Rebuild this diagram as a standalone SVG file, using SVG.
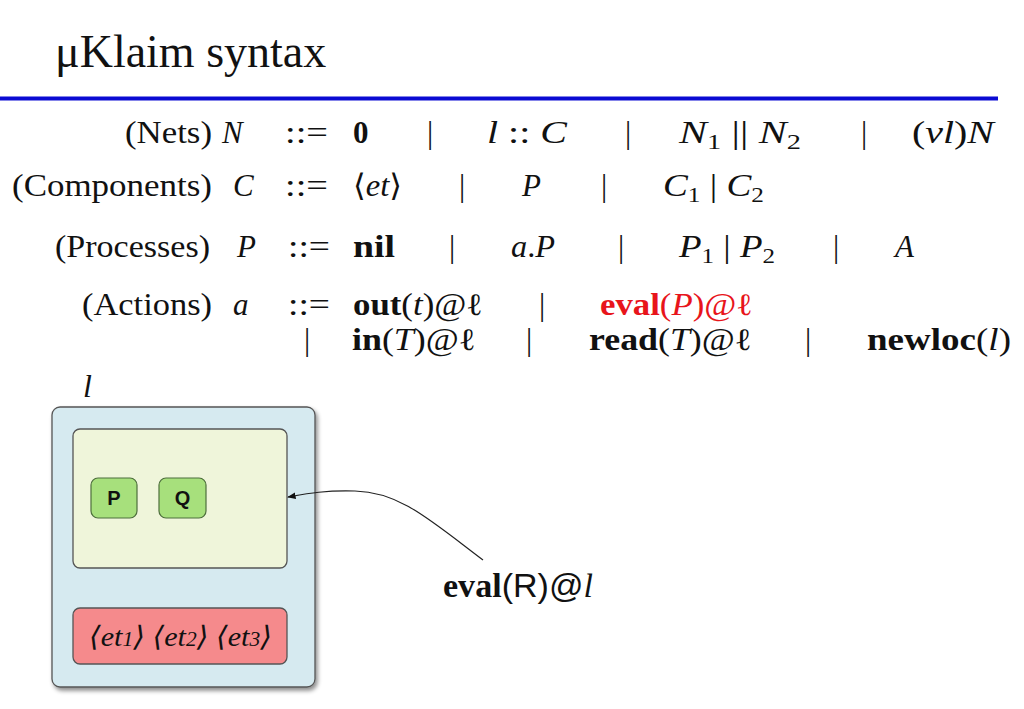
<svg xmlns="http://www.w3.org/2000/svg" width="1024" height="709" viewBox="0 0 1024 709">
<style>
.t{font-family:"Liberation Serif","DejaVu Serif",serif;font-size:31px;fill:#111}
.i{font-style:italic}
.b{font-weight:bold}
.bar{text-anchor:middle}
.red{fill:#e8141b}
.box{stroke:#555;stroke-width:1.3}
.pq{font-family:"Liberation Sans",Arial,sans-serif;font-weight:bold;font-size:20px;fill:#111;text-anchor:middle}
</style>
<defs>
<filter id="sh" x="-10%" y="-10%" width="130%" height="130%">
<feDropShadow dx="2" dy="3" stdDeviation="2" flood-color="#000" flood-opacity="0.45"/>
</filter>
<marker id="ah" viewBox="0 0 10 10" refX="9" refY="5" markerWidth="7" markerHeight="7" orient="auto">
<path d="M0,1 L10,5 L0,9 z" fill="#111"/>
</marker>
</defs>
<rect width="1024" height="709" fill="#fff"/>

<g id="title">
<text x="55" y="67" font-family="Liberation Serif,serif" font-size="46" fill="#111">μKlaim syntax</text>
<rect x="0" y="96.5" width="998" height="4" fill="#0b0bd3"/>
</g>

<g id="row-nets" class="t">
<text class="t" x="125" y="143" textLength="87" lengthAdjust="spacingAndGlyphs">(Nets)</text>
<text class="t i" x="222" y="143">N</text>
<text class="t" x="285" y="143" textLength="43" lengthAdjust="spacingAndGlyphs">::=</text>
<text class="t b" x="353" y="143">0</text>
<text class="t bar" x="430" y="143">|</text>
<text class="t" x="487" y="143" textLength="80" lengthAdjust="spacingAndGlyphs"><tspan class="i">l</tspan> :: <tspan class="i">C</tspan></text>
<text class="t bar" x="628" y="143">|</text>
<text class="t" x="679" y="143" textLength="122" lengthAdjust="spacingAndGlyphs"><tspan class="i">N</tspan><tspan font-size="21" dy="6">1</tspan><tspan dy="-6"> || </tspan><tspan class="i">N</tspan><tspan font-size="21" dy="6">2</tspan></text>
<text class="t bar" x="864" y="143">|</text>
<text class="t" x="912" y="143" textLength="82" lengthAdjust="spacingAndGlyphs">(<tspan class="i">νl</tspan>)<tspan class="i">N</tspan></text>
</g>

<g id="row-components">
<text class="t" x="12" y="196" textLength="200" lengthAdjust="spacingAndGlyphs">(Components)</text>
<text class="t i" x="233" y="196">C</text>
<text class="t" x="285" y="196" textLength="43" lengthAdjust="spacingAndGlyphs">::=</text>
<text class="t" x="353" y="196" textLength="49" lengthAdjust="spacingAndGlyphs">⟨<tspan class="i">et</tspan>⟩</text>
<text class="t bar" x="462" y="196">|</text>
<text class="t i" x="522" y="196">P</text>
<text class="t bar" x="604" y="196">|</text>
<text class="t" x="663" y="196" textLength="101" lengthAdjust="spacingAndGlyphs"><tspan class="i">C</tspan><tspan font-size="21" dy="6">1</tspan><tspan dy="-6"> | </tspan><tspan class="i">C</tspan><tspan font-size="21" dy="6">2</tspan></text>
</g>

<g id="row-processes">
<text class="t" x="55" y="257" textLength="155" lengthAdjust="spacingAndGlyphs">(Processes)</text>
<text class="t i" x="237" y="257">P</text>
<text class="t" x="288" y="257" textLength="42" lengthAdjust="spacingAndGlyphs">::=</text>
<text class="t b" x="353" y="257" textLength="42" lengthAdjust="spacingAndGlyphs">nil</text>
<text class="t bar" x="452" y="257">|</text>
<text class="t" x="511" y="257" textLength="44" lengthAdjust="spacingAndGlyphs"><tspan class="i">a</tspan>.<tspan class="i">P</tspan></text>
<text class="t bar" x="621" y="257">|</text>
<text class="t" x="679" y="257" textLength="96" lengthAdjust="spacingAndGlyphs"><tspan class="i">P</tspan><tspan font-size="21" dy="6">1</tspan><tspan dy="-6"> | </tspan><tspan class="i">P</tspan><tspan font-size="21" dy="6">2</tspan></text>
<text class="t bar" x="836" y="257">|</text>
<text class="t i" x="895" y="257">A</text>
</g>

<g id="row-actions">
<text class="t" x="82" y="315" textLength="130" lengthAdjust="spacingAndGlyphs">(Actions)</text>
<text class="t i" x="233" y="315">a</text>
<text class="t" x="288" y="315" textLength="42" lengthAdjust="spacingAndGlyphs">::=</text>
<text class="t" x="353" y="315" textLength="130" lengthAdjust="spacingAndGlyphs"><tspan class="b">out</tspan>(<tspan class="i">t</tspan>)@ℓ</text>
<text class="t bar" x="542" y="315">|</text>
<text class="t red" x="600" y="315" textLength="153" lengthAdjust="spacingAndGlyphs"><tspan class="b">eval</tspan>(<tspan class="i">P</tspan>)@ℓ</text>
<text class="t bar" x="307" y="350">|</text>
<text class="t" x="352" y="350" textLength="124" lengthAdjust="spacingAndGlyphs"><tspan class="b">in</tspan>(<tspan class="i">T</tspan>)@ℓ</text>
<text class="t bar" x="529" y="350">|</text>
<text class="t" x="589" y="350" textLength="163" lengthAdjust="spacingAndGlyphs"><tspan class="b">read</tspan>(<tspan class="i">T</tspan>)@ℓ</text>
<text class="t bar" x="808" y="350">|</text>
<text class="t" x="867" y="350" textLength="144" lengthAdjust="spacingAndGlyphs"><tspan class="b">newloc</tspan>(<tspan class="i">l</tspan>)</text>
</g>

<g id="locality">
<text x="83" y="397" font-family="Liberation Serif,serif" font-style="italic" font-size="32" fill="#111">l</text>
<rect class="box" x="52" y="407" width="263" height="280" rx="8" fill="#d6eaf0" filter="url(#sh)"/>
</g>
<g id="processes-area">
<rect class="box" x="73" y="429" width="214" height="139" rx="7" fill="#eff5da"/>
</g>
<g id="node-P">
<rect x="91" y="478" width="46" height="40" rx="7" fill="#a7e07c" stroke="#4d6e3c" stroke-width="1.2"/>
<text class="pq" x="114" y="505">P</text>
</g>
<g id="node-Q">
<rect x="159" y="478" width="47" height="40" rx="7" fill="#a7e07c" stroke="#4d6e3c" stroke-width="1.2"/>
<text class="pq" x="182.5" y="505">Q</text>
</g>
<g id="tuples">
<rect class="box" x="73" y="608" width="214" height="56" rx="7" fill="#f58a8c"/>
<text x="89" y="646" font-family="Liberation Serif,'DejaVu Serif',serif" font-style="italic" font-size="28" fill="#111" textLength="183" lengthAdjust="spacingAndGlyphs">⟨et<tspan font-size="20">1</tspan>⟩  ⟨et<tspan font-size="20">2</tspan>⟩  ⟨et<tspan font-size="20">3</tspan>⟩</text>
</g>

<g id="eval-label">
<text x="443" y="597" font-size="33" fill="#111" textLength="150" lengthAdjust="spacingAndGlyphs"><tspan font-family="Liberation Serif,serif" font-weight="bold">eval</tspan><tspan font-family="Liberation Sans,sans-serif">(R)@</tspan><tspan font-family="Liberation Serif,serif" font-style="italic">l</tspan></text>
</g>

<g id="connectors">
<path d="M483,560 C430,520 400,492 355,491 C325,490 305,494 288,497" fill="none" stroke="#222" stroke-width="1.2" marker-end="url(#ah)"/>
</g>
</svg>
